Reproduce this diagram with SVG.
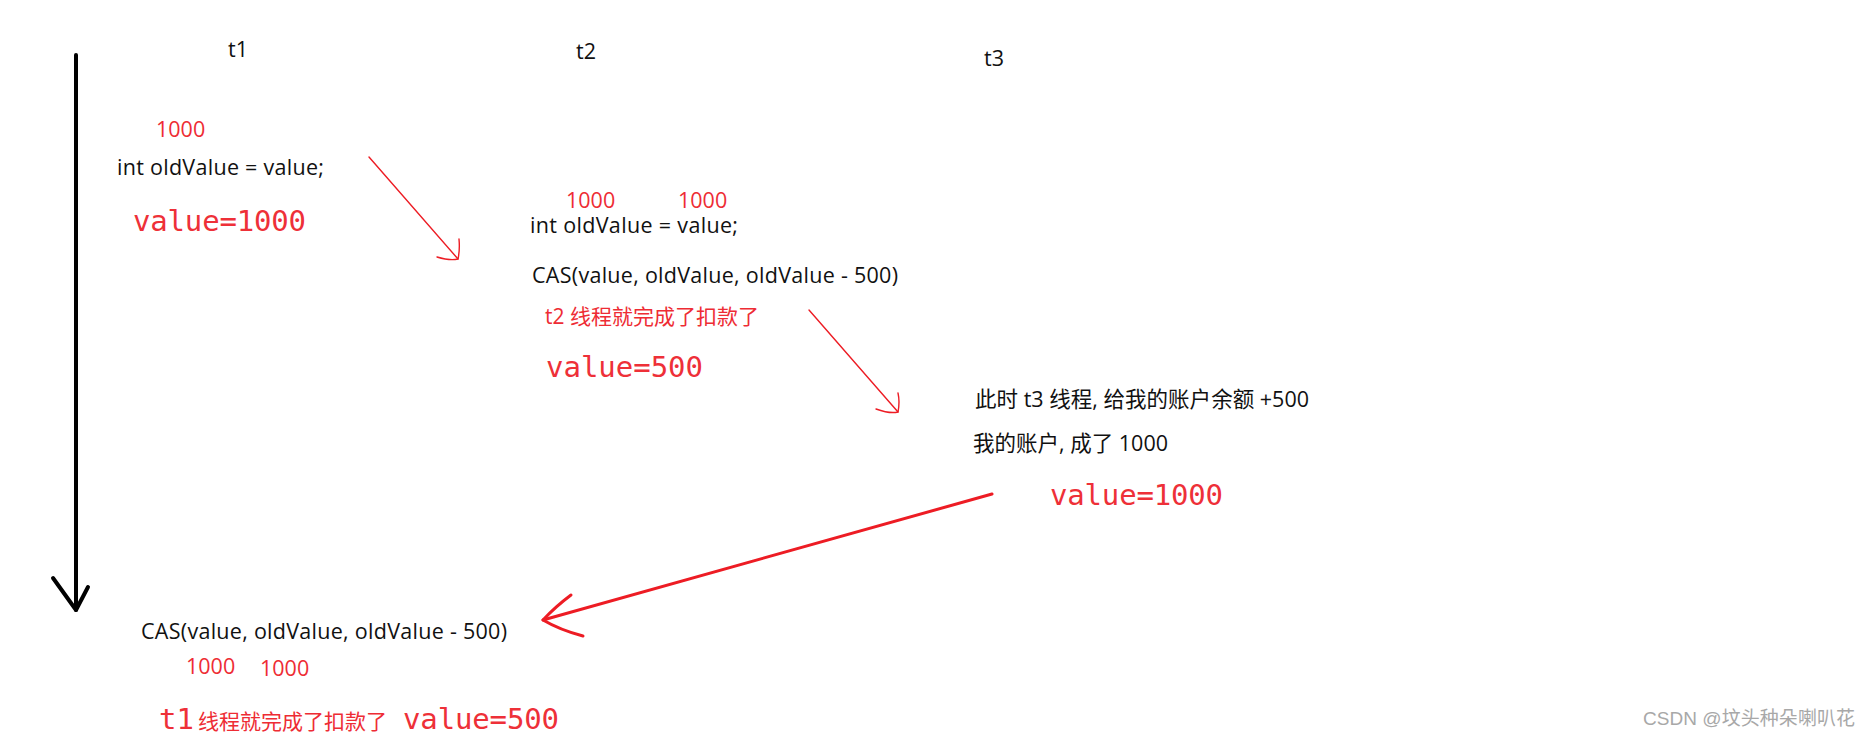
<svg xmlns="http://www.w3.org/2000/svg" width="1870" height="745" viewBox="0 0 1870 745">
<style>
.blk{font-family:"Open Sans","Noto Sans CJK SC",sans-serif;font-size:21.5px;fill:#111}
.rs{font-family:"Open Sans","Noto Sans CJK SC",sans-serif;font-size:21.5px;fill:#ee2c34}
.rc{font-family:"Open Sans","Noto Sans CJK SC",sans-serif;font-size:21px;fill:#ee2c34}
.mono{font-family:"DejaVu Sans Mono","Liberation Mono",monospace;font-size:29px;fill:#ee3038}
.wm{font-family:"Liberation Sans","Noto Sans CJK SC",sans-serif;font-size:19px;fill:#a8a8a8}
.thin{stroke:#ed1c24;stroke-width:1.4;fill:none;stroke-linecap:round;stroke-linejoin:round}
.thick{stroke:#ed1c24;stroke-width:3;fill:none;stroke-linecap:round;stroke-linejoin:round}
.axis{stroke:#000;stroke-width:4;fill:none;stroke-linecap:round;stroke-linejoin:round}
</style>
<rect width="1870" height="745" fill="#fff"/>
<g id="connectors">
<path class="axis" d="M76 55 L76 610"/>
<path class="axis" d="M53 578 L76 610 L88 587"/>
<path class="thin" d="M369 157 L458 259"/>
<path class="thin" d="M437 257 Q450 261 458 259 Q460 250 459 239"/>
<path class="thin" d="M809 310 L898 412"/>
<path class="thin" d="M876 409 Q890 414 898 412 Q900 402 898 393"/>
<path class="thick" d="M992 494 L543 620"/>
<path class="thick" d="M571 595 Q555 607 543 620 Q560 630 583 636"/>
</g>
<g id="labels-threads">
<text class="blk" x="228" y="57">t1</text>
<text class="blk" x="576" y="59">t2</text>
<text class="blk" x="984" y="66">t3</text>
</g>
<g id="t1-read">
<text class="rs" x="156" y="137">1000</text>
<text class="blk" x="117" y="175" textLength="207">int oldValue = value;</text>
<text class="mono" x="133" y="231" textLength="173">value=1000</text>
</g>
<g id="t2-read-cas">
<text class="rs" x="566" y="208">1000</text>
<text class="rs" x="678" y="208">1000</text>
<text class="blk" x="530" y="233" textLength="208">int oldValue = value;</text>
<text class="blk" x="532" y="283" textLength="366">CAS(value, oldValue, oldValue - 500)</text>
<text class="rc" x="545" y="324" textLength="214">t2 线程就完成了扣款了</text>
<text class="mono" x="546" y="377" textLength="157">value=500</text>
</g>
<g id="t3-deposit">
<text class="blk" x="975" y="407" textLength="334">此时 t3 线程, 给我的账户余额 +500</text>
<text class="blk" x="973" y="451" textLength="195">我的账户, 成了 1000</text>
<text class="mono" x="1050" y="505" textLength="173">value=1000</text>
</g>
<g id="t1-cas">
<text class="blk" x="141" y="639" textLength="366">CAS(value, oldValue, oldValue - 500)</text>
<text class="rs" x="186" y="674">1000</text>
<text class="rs" x="260" y="676">1000</text>
<text class="mono" x="159" y="729">t1</text>
<text class="rc" x="198" y="729" textLength="189">线程就完成了扣款了</text>
<text class="mono" x="403" y="729" textLength="156">value=500</text>
</g>
<g id="watermark">
<text class="wm" x="1643" y="725" textLength="212">CSDN @坟头种朵喇叭花</text>
</g>
</svg>
